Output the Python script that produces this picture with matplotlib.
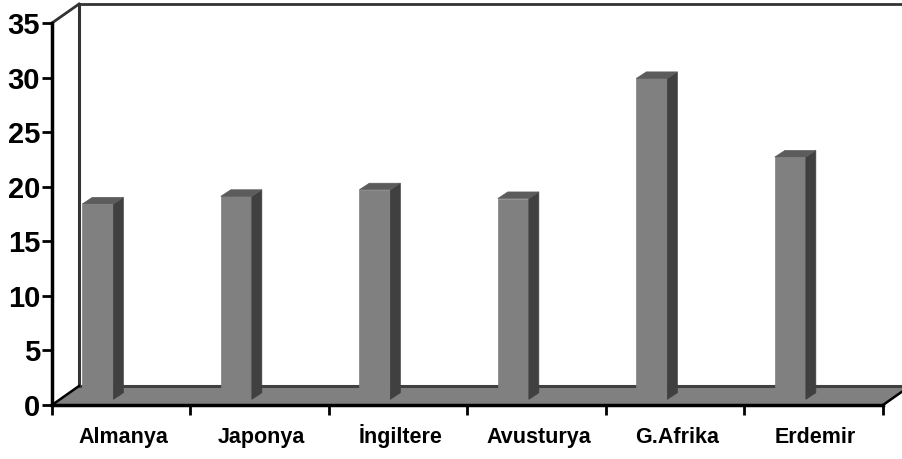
import matplotlib
matplotlib.use("Agg")
import matplotlib.pyplot as plt
from matplotlib.patches import Polygon
from matplotlib.transforms import blended_transform_factory, offset_copy

# Data
categories = ["Almanya", "Japonya", "İngiltere", "Avusturya", "G.Afrika", "Erdemir"]
values = [17.9, 18.6, 19.2, 18.4, 29.4, 22.2]
y_ticks = [0, 5, 10, 15, 20, 25, 30, 35]

plt.rcParams["font.family"] = ["Liberation Sans", "DejaVu Sans"]

W, H = 903, 459
fig = plt.figure(figsize=(W / 100, H / 100), dpi=100)
# plotting plane: front-left corner of the floor up to the top of the value axis
left_px, right_px, base_px, top_px = 52, 883, 405, 23
ax = fig.add_axes([left_px / W, 1 - base_px / H,
                   (right_px - left_px) / W, (base_px - top_px) / H])
n = len(categories)
ymax = 35
ax.set_xlim(0, n)
ax.set_ylim(0, ymax)
ax.patch.set_visible(False)

# oblique depth of the walls / floor (data units)
wx, wy = 0.195, 1.74
# column geometry
bar_w = 0.224
bar_shift = -0.169          # column centre relative to category centre
bar_base = 0.52             # columns stand in the middle of the floor
sx, sy = 0.072, 0.60        # column depth

front_c = "#808080"
side_c = "#404040"
top_c = "#5c5c5c"
wall_c = "#333333"

# back wall outline
ax.plot([0, wx], [ymax, ymax + wy], color=wall_c, lw=2, clip_on=False, zorder=1)
ax.plot([wx, wx], [wy, ymax + wy], color=wall_c, lw=2.2, clip_on=False, zorder=1)
ax.plot([wx, n + wx + 0.3], [ymax + wy, ymax + wy], color=wall_c, lw=2,
        clip_on=False, zorder=1)

# floor
floor = Polygon([(0, 0), (n, 0), (n + wx, wy), (wx, wy)], closed=True,
                facecolor=front_c, edgecolor="none", clip_on=False, zorder=2)
ax.add_patch(floor)
ax.plot([wx, n + wx], [wy, wy], color=side_c, lw=2.2, clip_on=False, zorder=2.5)
ax.plot([0, wx], [0, wy], color="black", lw=1.8, clip_on=False, zorder=2.6)
ax.plot([n, n + wx], [0, wy], color="black", lw=1.8, clip_on=False, zorder=2.6)

# 3-D columns
for i, v in enumerate(values):
    x0 = i + 0.5 + bar_shift - bar_w / 2
    x1 = x0 + bar_w
    y0 = bar_base
    y1 = bar_base + v
    front = Polygon([(x0, y0), (x1, y0), (x1, y1), (x0, y1)],
                    facecolor=front_c, edgecolor=front_c, lw=0.5, zorder=4)
    side = Polygon([(x1, y0), (x1 + sx, y0 + sy), (x1 + sx, y1 + sy), (x1, y1)],
                   facecolor=side_c, edgecolor=side_c, lw=0.5, zorder=4)
    top = Polygon([(x0, y1), (x1, y1), (x1 + sx, y1 + sy), (x0 + sx, y1 + sy)],
                  facecolor=top_c, edgecolor=top_c, lw=0.5, zorder=4)
    for p in (front, side, top):
        p.set_clip_on(False)
        ax.add_patch(p)

# axes
for s in ("top", "right"):
    ax.spines[s].set_visible(False)
for s in ("left", "bottom"):
    ax.spines[s].set_linewidth(2.5)
    ax.spines[s].set_color("black")
    ax.spines[s].set_zorder(6)
    ax.spines[s].set_capstyle("projecting")

ax.set_yticks(y_ticks)
ax.set_yticklabels([str(t) for t in y_ticks], fontsize=21, fontweight="bold")
ax.tick_params(axis="y", direction="out", length=7, width=2, pad=1.5)

ax.set_xticks(range(n + 1))
ax.set_xticklabels([])
ax.tick_params(axis="x", which="major", direction="out", length=7, width=2)

# category names, baseline-aligned below the front edge
trans = offset_copy(blended_transform_factory(ax.transData, ax.transAxes),
                    fig=fig, x=2, y=-38, units="dots")
for i, name in enumerate(categories):
    ax.text(i + 0.5, 0, name, transform=trans, ha="center", va="baseline",
            fontsize=15.5, fontweight="bold")

fig.savefig("out.png", dpi=100)
